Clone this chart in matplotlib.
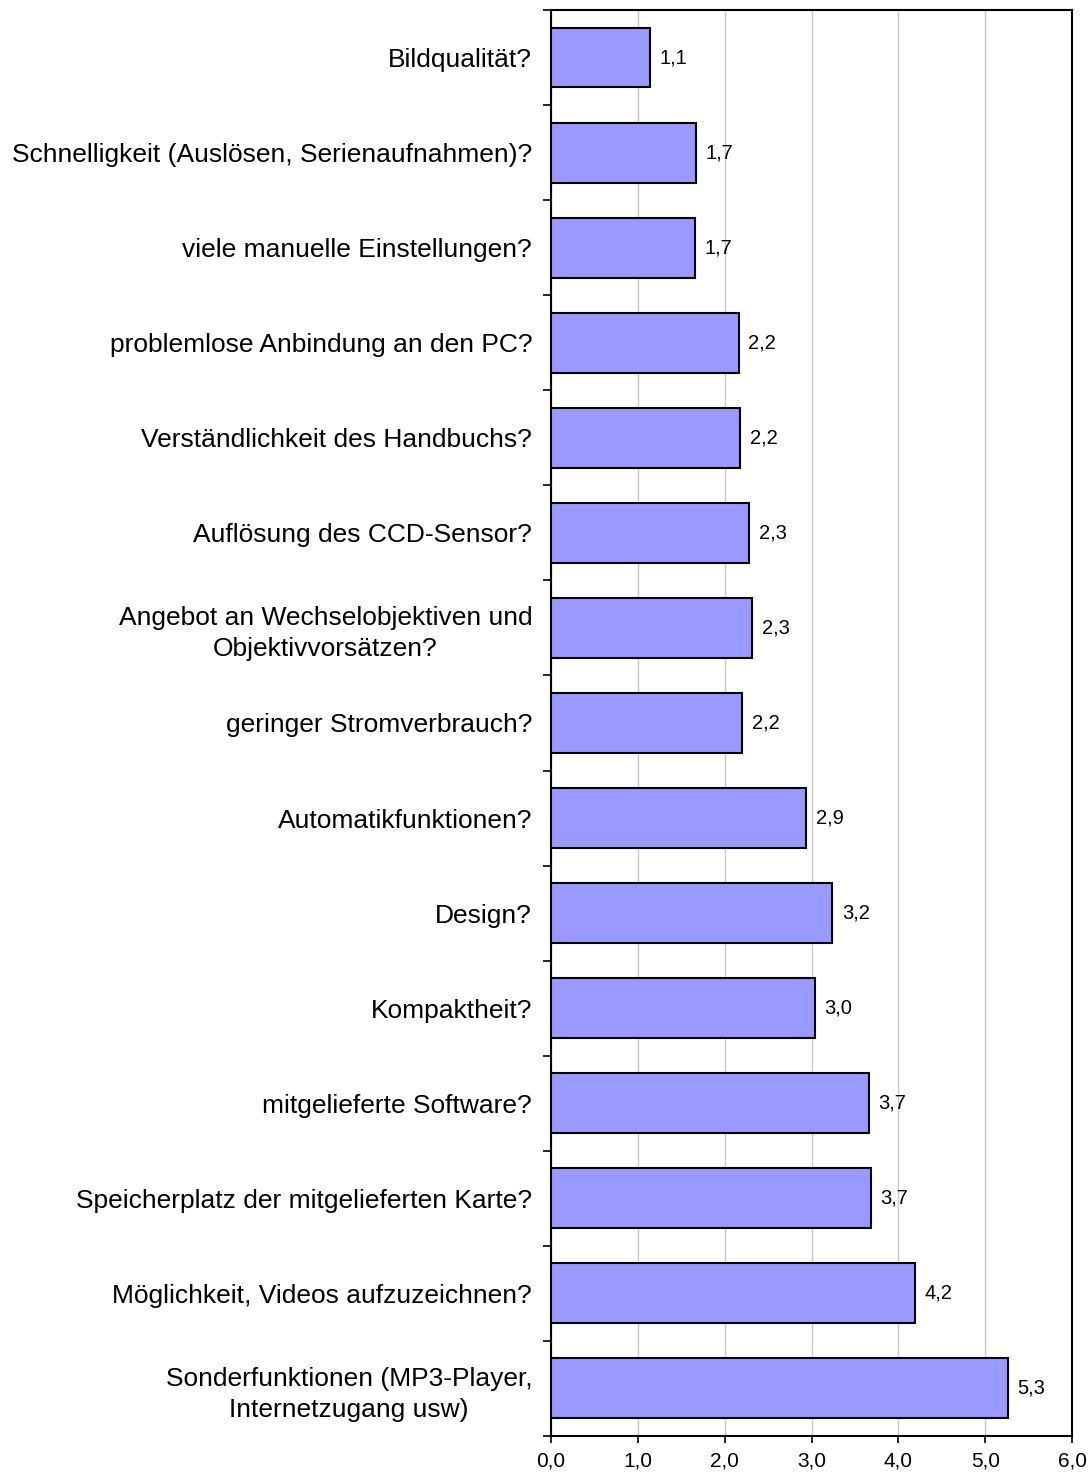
import matplotlib.pyplot as plt
import numpy as np

# Fragen (von oben nach unten) und Mittelwerte
categories = [
    'Bildqualität?',
    'Schnelligkeit (Auslösen, Serienaufnahmen)?',
    'viele manuelle Einstellungen?',
    'problemlose Anbindung an den PC?',
    'Verständlichkeit des Handbuchs?',
    'Auflösung des CCD-Sensor?',
    'Angebot an Wechselobjektiven und\nObjektivvorsätzen?',
    'geringer Stromverbrauch?',
    'Automatikfunktionen?',
    'Design?',
    'Kompaktheit?',
    'mitgelieferte Software?',
    'Speicherplatz der mitgelieferten Karte?',
    'Möglichkeit, Videos aufzuzeichnen?',
    'Sonderfunktionen (MP3-Player,\nInternetzugang usw)',
]
values = [1.14, 1.67, 1.66, 2.16, 2.18, 2.28, 2.32, 2.20,
          2.94, 3.24, 3.04, 3.66, 3.68, 4.19, 5.26]
x_ticks = [0, 1, 2, 3, 4, 5, 6]

plt.rcParams['font.family'] = ['Liberation Sans', 'DejaVu Sans']

fig = plt.figure(figsize=(10.9, 14.74), dpi=100)
ax = fig.add_axes([0.5055, 0.0258, 0.9835 - 0.5055, 0.9932 - 0.0258])

y = np.arange(len(categories))
ax.barh(y, values, height=0.63, color='#9999ff', edgecolor='black',
        linewidth=1.5, zorder=3)

for yi, v in zip(y, values):
    ax.annotate(f'{v:.1f}'.replace('.', ','), (v, yi), xytext=(7, 0),
                textcoords='offset points', va='center', ha='left',
                fontsize=14.5)

ax.set_xlim(0, 6)
ax.set_ylim(len(categories) - 0.5, -0.5)
ax.set_xticks(x_ticks)
ax.set_xticklabels([f'{t:.1f}'.replace('.', ',') for t in x_ticks], fontsize=15)
ax.set_yticks(y)
ax.set_yticklabels(categories, fontsize=19, multialignment='center',
                   linespacing=1.35)
ax.set_yticks(np.arange(-0.5, len(categories), 1), minor=True)

ax.tick_params(axis='y', which='major', length=0, pad=13.5)
ax.tick_params(axis='y', which='minor', length=6, width=1.2, direction='out')
ax.tick_params(axis='x', length=5, width=1.2, direction='out', pad=6)

ax.xaxis.grid(True, color='#c8c8c8', linewidth=1, zorder=0)
ax.set_axisbelow(True)
for s in ax.spines.values():
    s.set_linewidth(1.5)

fig.savefig('out.png', dpi=100)
